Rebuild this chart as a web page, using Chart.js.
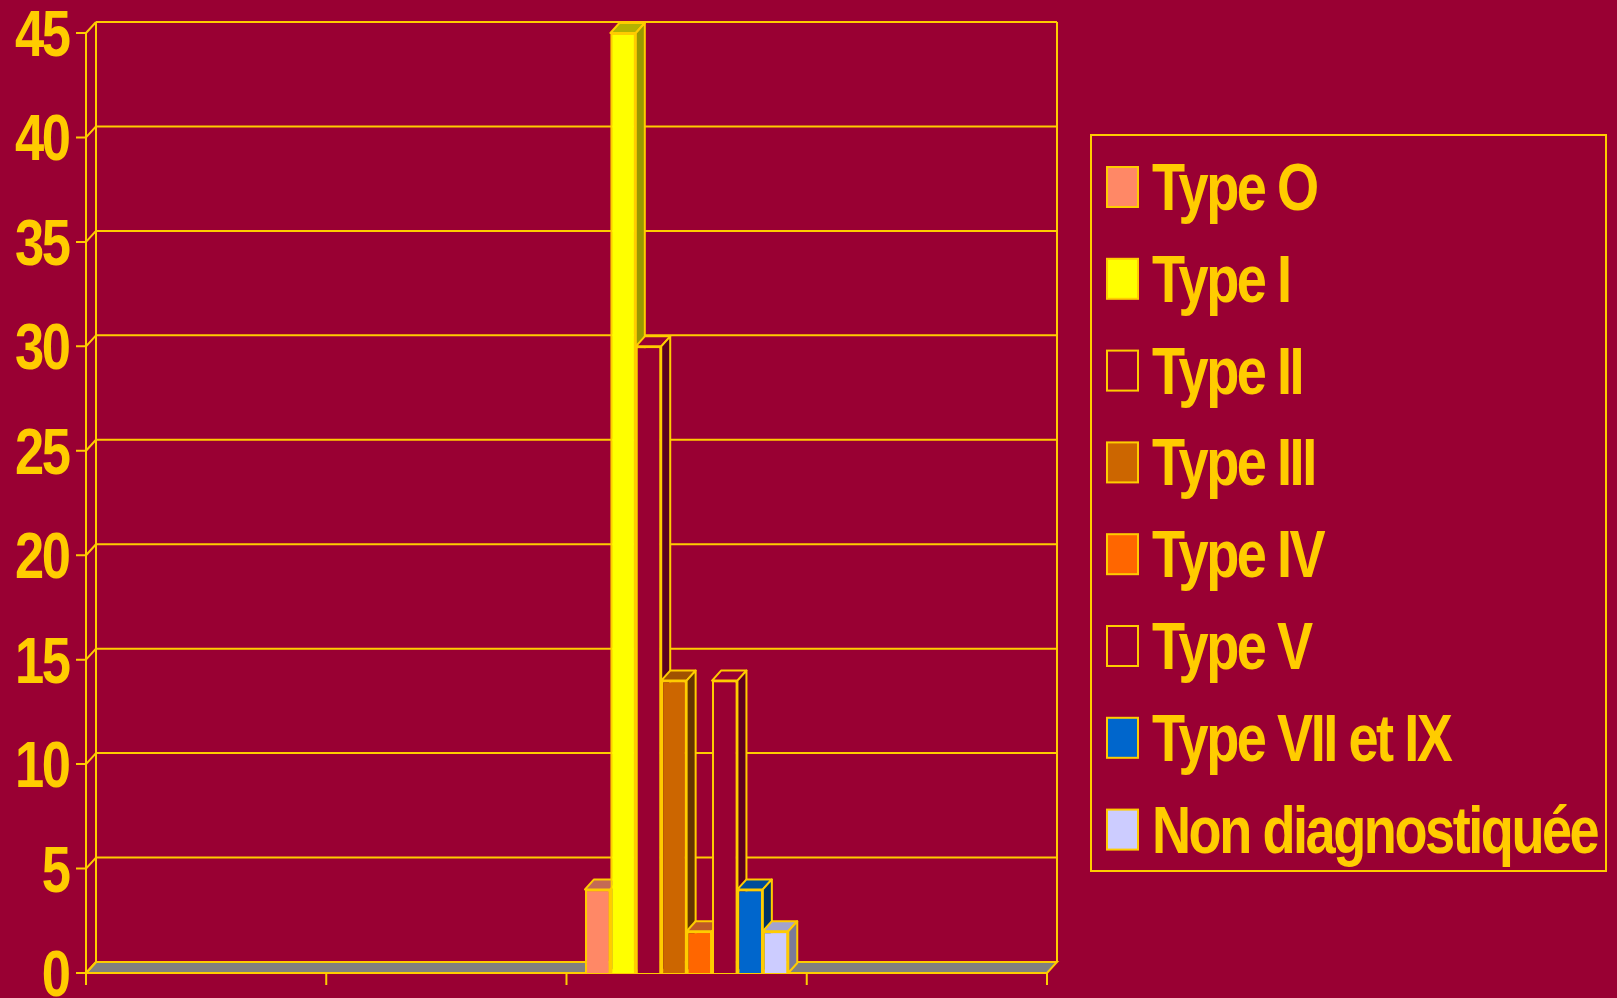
<!DOCTYPE html>
<html>
<head>
<meta charset="utf-8">
<script src="https://cdn.jsdelivr.net/npm/chart.js@4.4.1/dist/chart.umd.min.js"></script>
<style>
  html, body { margin: 0; padding: 0; background: #990033; }
  #wrap { width: 1617px; height: 998px; }
</style>
</head>
<body>
<div id="wrap"><canvas id="typesChart" width="1617" height="998"></canvas></div>
<script>
// data
const categories = ['', '', '', ''];
const dataSlot = 2; // all bars sit in the third category
const seriesNames = ['Type O', 'Type I', 'Type II', 'Type III', 'Type IV', 'Type V', 'Type VII et IX', 'Non diagnostiquée'];
const seriesValues = [4, 45, 30, 14, 2, 14, 4, 2];
const yTicks = [0, 5, 10, 15, 20, 25, 30, 35, 40, 45];

// colours: front face, top face, side face
const frontColors = ['#FF8866', '#FFFF00', '#990033', '#CC6600', '#FF6600', '#990033', '#0066CC', '#CCCCFF'];
const topColors = ['#C46A55', '#B3B300', '#990033', '#A05200', '#BF5A26', '#990033', '#004C99', '#A3A3CC'];
const sideColors = ['#A35545', '#999900', '#5C001F', '#663300', '#993D00', '#5C001F', '#003366', '#7A7A99'];

const BG = '#990033';
const LINE = '#FFCC00';
const WALL_DX = 10, WALL_DY = 11;
const BAR_DX = 9, BAR_DY = 10;

// bold text squeezed together like the original narrow font
function condensedText(ctx, text, x, y, size, align) {
    const squeeze = 0.82;
    ctx.save();
    ctx.font = 'bold ' + size + 'px "Liberation Sans", Arial, sans-serif';
    ctx.letterSpacing = '-3px';
    ctx.fillStyle = LINE;
    ctx.textBaseline = 'alphabetic';
    ctx.textAlign = 'left';
    const w = (ctx.measureText(text).width + 3) * squeeze;
    const startX = align === 'right' ? x - w : x;
    ctx.translate(startX, y);
    ctx.scale(squeeze, 1);
    ctx.fillText(text, 0, 0);
    ctx.restore();
}

const box3d = {
    id: 'box3d',
    beforeDatasetsDraw(chart) {
        const ctx = chart.ctx;
        const a = chart.chartArea;
        const y = chart.scales.y;
        ctx.save();
        ctx.strokeStyle = LINE;
        ctx.lineWidth = 2;

        // floor
        const base = y.getPixelForValue(0);
        ctx.fillStyle = '#808080';
        ctx.beginPath();
        ctx.moveTo(a.left, base);
        ctx.lineTo(a.right, base);
        ctx.lineTo(a.right + WALL_DX, base - WALL_DY);
        ctx.lineTo(a.left + WALL_DX, base - WALL_DY);
        ctx.closePath();
        ctx.fill();
        ctx.stroke();

        // back wall grid lines and left wall diagonals
        yTicks.forEach(v => {
            const py = y.getPixelForValue(v);
            ctx.beginPath();
            if (v > 0) {
                ctx.moveTo(a.left + WALL_DX, py - WALL_DY);
                ctx.lineTo(a.right + WALL_DX, py - WALL_DY);
            }
            ctx.moveTo(a.left, py);
            ctx.lineTo(a.left + WALL_DX, py - WALL_DY);
            // tick mark
            ctx.moveTo(a.left - 10, py);
            ctx.lineTo(a.left, py);
            ctx.stroke();
        });

        const top = y.getPixelForValue(yTicks[yTicks.length - 1]);
        ctx.beginPath();
        // front axis
        ctx.moveTo(a.left, top);
        ctx.lineTo(a.left, base);
        // wall edges
        ctx.moveTo(a.left + WALL_DX, top - WALL_DY);
        ctx.lineTo(a.left + WALL_DX, base - WALL_DY);
        ctx.moveTo(a.right + WALL_DX, top - WALL_DY);
        ctx.lineTo(a.right + WALL_DX, base - WALL_DY);
        // bottom axis and category ticks
        ctx.moveTo(a.left, base);
        ctx.lineTo(a.right, base);
        for (let i = 0; i <= categories.length; i++) {
            const px = a.left + (a.right - a.left) * i / categories.length;
            ctx.moveTo(px, base);
            ctx.lineTo(px, base + 12);
        }
        ctx.stroke();

        // y tick labels
        yTicks.forEach(v => {
            condensedText(ctx, String(v), a.left - 15, y.getPixelForValue(v) + 23, 64, 'right');
        });
        ctx.restore();
    },
    afterDatasetsDraw(chart) {
        const ctx = chart.ctx;
        ctx.save();
        ctx.lineJoin = 'round';
        // redraw bar by bar, left to right, so each front hides the previous side
        chart.data.datasets.forEach((ds, i) => {
            const bar = chart.getDatasetMeta(i).data[dataSlot];
            if (!bar) return;
            const p = bar.getProps(['x', 'y', 'base', 'width'], true);
            const L = p.x - p.width / 2, R = p.x + p.width / 2, T = p.y, B = p.base;
            bar.draw(ctx);
            ctx.strokeStyle = LINE;
            ctx.lineWidth = 2;
            // top face
            ctx.fillStyle = topColors[i];
            ctx.beginPath();
            ctx.moveTo(L, T);
            ctx.lineTo(R, T);
            ctx.lineTo(R + BAR_DX, T - BAR_DY);
            ctx.lineTo(L + BAR_DX, T - BAR_DY);
            ctx.closePath();
            ctx.fill();
            ctx.stroke();
            // side face
            ctx.fillStyle = sideColors[i];
            ctx.beginPath();
            ctx.moveTo(R, T);
            ctx.lineTo(R + BAR_DX, T - BAR_DY);
            ctx.lineTo(R + BAR_DX, B - BAR_DY);
            ctx.lineTo(R, B);
            ctx.closePath();
            ctx.fill();
            ctx.stroke();
        });
        ctx.restore();
    },
    afterDraw(chart) {
        const ctx = chart.ctx;
        ctx.save();
        // legend frame
        ctx.strokeStyle = LINE;
        ctx.lineWidth = 2;
        ctx.strokeRect(1091, 135, 515, 736);
        chart.data.datasets.forEach((ds, i) => {
            const rowY = 167 + i * 91.8;
            ctx.fillStyle = frontColors[i];
            ctx.fillRect(1107, rowY, 31, 40);
            ctx.strokeStyle = LINE;
            ctx.lineWidth = 2;
            ctx.strokeRect(1107, rowY, 31, 40);
            condensedText(ctx, ds.label, 1152, rowY + 43, 66, 'left');
        });
        ctx.restore();
    }
};

const bgPlugin = {
    id: 'bg',
    beforeDraw(chart) {
        const ctx = chart.ctx;
        ctx.save();
        ctx.fillStyle = BG;
        ctx.fillRect(0, 0, chart.width, chart.height);
        ctx.restore();
    }
};

const datasets = seriesNames.map((name, i) => ({
    label: name,
    data: categories.map((c, k) => (k === dataSlot ? seriesValues[i] : null)),
    backgroundColor: frontColors[i],
    borderColor: LINE,
    borderWidth: 2,
    barPercentage: 1.0,
    categoryPercentage: 0.846
}));

new Chart(document.getElementById('typesChart').getContext('2d'), {
    type: 'bar',
    data: { labels: categories, datasets: datasets },
    options: {
        responsive: false,
        animation: false,
        devicePixelRatio: 1,
        layout: { padding: { left: 86, right: 570, top: 33, bottom: 25 } },
        scales: {
            x: { display: false },
            y: { display: false, min: 0, max: 45 }
        },
        plugins: {
            legend: { display: false },
            tooltip: { enabled: false }
        }
    },
    plugins: [bgPlugin, box3d]
});
</script>
</body>
</html>
